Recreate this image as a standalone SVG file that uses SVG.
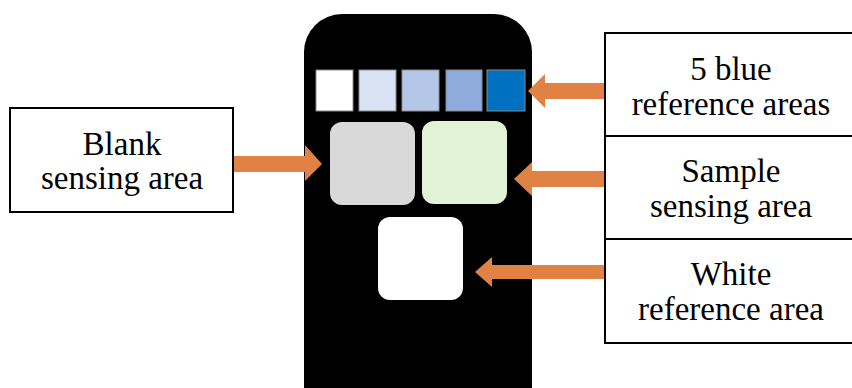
<svg xmlns="http://www.w3.org/2000/svg" width="852" height="388" viewBox="0 0 852 388">
<style>
.lbl{fill:#fff;stroke:#000;stroke-width:2}
.t{font-family:"Liberation Serif","Times New Roman",serif;font-size:33px;fill:#000;text-anchor:middle}
.arr{fill:#DF8244}
.sq{stroke:#8a8a8a;stroke-width:1}
</style>
<rect width="852" height="388" fill="#fff"/>
<g id="phone">
<rect x="304" y="14" width="228" height="410" rx="38" fill="#000"/>
<g id="blue-refs">
<rect class="sq" x="316" y="70" width="37" height="41" fill="#ffffff"/>
<rect class="sq" x="359" y="70" width="37" height="41" fill="#DAE3F3"/>
<rect class="sq" x="402" y="70" width="37" height="41" fill="#B4C7E7"/>
<rect class="sq" x="446" y="70" width="36" height="41" fill="#8FAADC"/>
<rect class="sq" x="487" y="70" width="38" height="41" fill="#0070C0"/>
</g>
<rect id="blank-area" x="330" y="122" width="85" height="83" rx="12" fill="#D9D9D9"/>
<rect id="sample-area" x="422" y="121" width="85" height="83" rx="12" fill="#E2F2D6"/>
<rect id="white-area" x="378" y="217" width="85" height="83" rx="12" fill="#ffffff"/>
</g>
<g id="label-blank">
<rect class="lbl" x="10" y="108" width="223" height="104"/>
<text class="t" x="122" y="155">Blank</text>
<text class="t" x="122" y="189">sensing area</text>
</g>
<g id="label-blue">
<rect class="lbl" x="605" y="33" width="260" height="103"/>
<text class="t" x="731" y="80">5 blue</text>
<text class="t" x="731" y="115">reference areas</text>
</g>
<g id="label-sample">
<rect class="lbl" x="605" y="136" width="260" height="103"/>
<text class="t" x="731" y="182">Sample</text>
<text class="t" x="731" y="217">sensing area</text>
</g>
<g id="label-white">
<rect class="lbl" x="605" y="239" width="260" height="104"/>
<text class="t" x="731" y="285">White</text>
<text class="t" x="731" y="320">reference area</text>
</g>
<g id="connectors">
<polygon class="arr" points="234,156 305,156 305,145 322,164 305,181 305,172 234,172"/>
<polygon class="arr" points="604,83 545,83 545,74 528,91 545,108 545,99 604,99"/>
<polygon class="arr" points="604,171 532,171 532,162 514,179 532,196 532,187 604,187"/>
<polygon class="arr" points="604,265 492,265 492,257 475,272 492,287 492,279 604,279"/>
</g>
</svg>
